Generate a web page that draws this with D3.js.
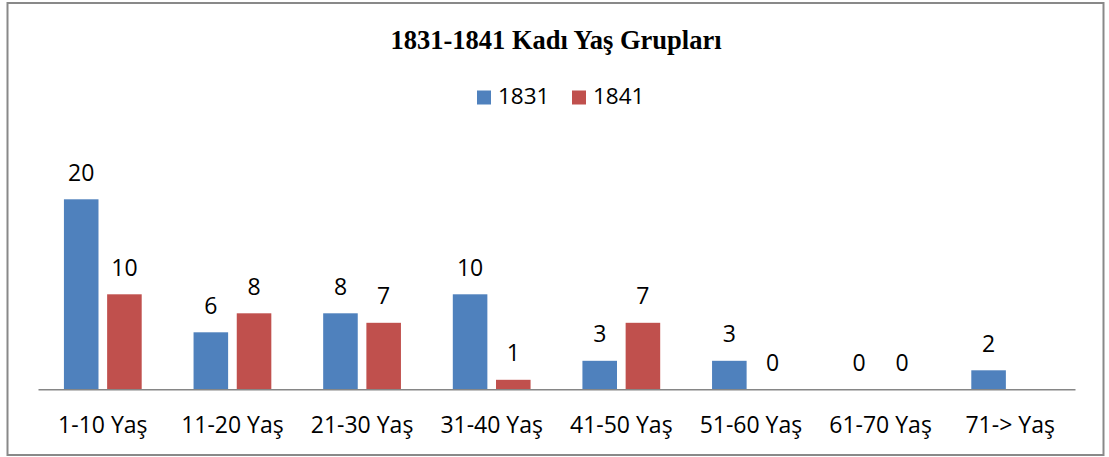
<!DOCTYPE html>
<html>
<head>
<meta charset="utf-8">
<script src="https://cdn.jsdelivr.net/npm/d3@7"></script>
<style>
  body { margin: 0; background: #fff; }
</style>
</head>
<body>
<div class="graph"></div>
<script>
// data
var categories = ["1-10 Yaş", "11-20 Yaş", "21-30 Yaş", "31-40 Yaş", "41-50 Yaş", "51-60 Yaş", "61-70 Yaş", "71-> Yaş"];
var seriesNames = ["1831", "1841"];
var values1831 = [20, 6, 8, 10, 3, 3, 0, 2];
var values1841 = [10, 8, 7, 1, 7, 0, 0, null];
var colors = ["#4F81BD", "#C0504D"];

var width = 1109, height = 457;
var font = "'Open Sans', 'Liberation Sans', sans-serif";

var svg = d3.select(".graph").append("svg")
    .attr("width", width)
    .attr("height", height);

// outer frame
svg.append("rect")
    .attr("x", 7.5).attr("y", 3)
    .attr("width", 1096).attr("height", 452)
    .attr("fill", "#fff")
    .attr("stroke", "#898989")
    .attr("stroke-width", 2);

// title
svg.append("text")
    .attr("x", 556).attr("y", 49)
    .attr("text-anchor", "middle")
    .style("font-family", "'Liberation Serif', 'Times New Roman', serif")
    .style("font-weight", "bold")
    .style("font-size", "26.5px")
    .text("1831-1841 Kadı Yaş Grupları");

// legend
var legend = svg.append("g").attr("class", "legend");
var legendX = [477, 572];
seriesNames.forEach(function(name, i) {
  legend.append("rect")
      .attr("x", legendX[i]).attr("y", 90.5)
      .attr("width", 14).attr("height", 14)
      .attr("fill", colors[i]);
  legend.append("text")
      .attr("x", legendX[i] + 21).attr("y", 104)
      .style("font-family", font)
      .style("font-size", "22.5px")
      .text(name);
});

var x = d3.scaleBand()
    .domain(categories)
    .range([38, 1075]);

var x1 = d3.scaleBand()
    .domain(seriesNames)
    .range([0, x.bandwidth()])
    .paddingInner(0.2)
    .paddingOuter(0.6);

var y = d3.scaleLinear()
    .domain([0, 20])
    .range([389.3, 199.3]);

var rows = [];
categories.forEach(function(c, i) {
  rows.push({cat: c, series: "1831", value: values1831[i], color: colors[0]});
  rows.push({cat: c, series: "1841", value: values1841[i], color: colors[1]});
});
var shown = rows.filter(function(d) { return d.value !== null; });

// bars
svg.append("g").selectAll("rect")
    .data(shown.filter(function(d) { return d.value > 0; }))
    .enter().append("rect")
    .attr("x", function(d) { return x(d.cat) + x1(d.series); })
    .attr("y", function(d) { return y(d.value); })
    .attr("width", x1.bandwidth())
    .attr("height", function(d) { return y(0) - y(d.value); })
    .attr("fill", function(d) { return d.color; });

// value labels
svg.append("g").selectAll("text")
    .data(shown)
    .enter().append("text")
    .attr("x", function(d) { return x(d.cat) + x1(d.series) + x1.bandwidth() / 2; })
    .attr("y", function(d) { return y(d.value) - 18.5; })
    .attr("text-anchor", "middle")
    .style("font-family", font)
    .style("font-size", "23px")
    .text(function(d) { return d.value; });

// category axis
var xAxis = d3.axisBottom(x).tickSize(0).tickPadding(0);
var axisG = svg.append("g")
    .attr("transform", "translate(0," + y(0) + ")")
    .call(xAxis);
axisG.select(".domain")
    .attr("stroke", "#868686")
    .attr("stroke-width", 1.5);
axisG.selectAll(".tick text")
    .attr("y", 0)
    .attr("dy", 0)
    .attr("transform", "translate(0,44)")
    .attr("fill", "#000")
    .style("font-family", font)
    .style("font-size", "23px");
</script>
</body>
</html>
